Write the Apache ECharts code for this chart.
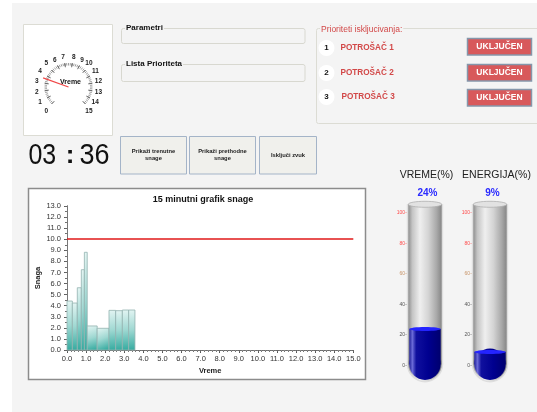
<!DOCTYPE html>
<html><head><meta charset="utf-8">
<script src="https://cdn.jsdelivr.net/npm/echarts@6/dist/echarts.min.js"></script>
<style>html,body{margin:0;padding:0;background:#fff;}#c{width:537px;height:412px;}</style>
</head><body><div id="c"></div>
<script>
// ---- data ----
const binStart = [0, 0.28, 0.54, 0.75, 0.91, 1.06, 1.58, 2.2, 2.55, 2.9, 3.23];
const binEnd   = [0.28, 0.54, 0.75, 0.91, 1.06, 1.58, 2.2, 2.55, 2.9, 3.23, 3.56];
const power    = [4.42, 4.24, 5.62, 7.25, 8.82, 2.17, 1.96, 3.58, 3.55, 3.61, 3.61];
const powerLimit = 10;
const gaugeValue = 3.6;
const clockMinutes = '03';
const clockSeconds = '36';
const thermoNames = ['VREME(%)', 'ENERGIJA(%)'];
const thermoValues = [24, 9];
const consumers = ['POTROŠAČ 1', 'POTROŠAČ 2', 'POTROŠAČ 3'];
const consumerStates = ['UKLJUČEN', 'UKLJUČEN', 'UKLJUČEN'];
const buttonLabels = ['Prikaži trenutne\nsnage', 'Prikaži prethodne\nsnage', 'Isključi zvuk'];

const FONT = '"Liberation Sans", Arial, sans-serif';
const BG = '#f4f4f4';
const chart = echarts.init(document.getElementById('c'), null, {renderer: 'canvas'});

const barData = power.map((v, i) => [binStart[i], binEnd[i], v]);

function renderBin(params, api) {
  const p0 = api.coord([api.value(0), 0]);
  const p1 = api.coord([api.value(1), api.value(2)]);
  return {
    type: 'rect',
    shape: {x: p0[0], y: p1[1], width: p1[0] - p0[0], height: p0[1] - p1[1]},
    style: {
      fill: new echarts.graphic.LinearGradient(0, 0, 0.7, 1, [
        {offset: 0, color: '#e4f5f3'}, {offset: 0.5, color: '#9fd8d2'}, {offset: 1, color: '#33aa9f'}
      ]),
      stroke: '#93b3b0', lineWidth: 0.8
    }
  };
}

function renderTube(params, api) {
  const v = api.value(1);
  const c0 = api.coord([0, 0]);
  const bw = api.size([1, 0])[0];
  const cx = c0[0];
  const r = bw / 2;
  const yC = c0[1] - 1.5;
  const yTop = api.coord([0, 105.5])[1];
  const yV = api.coord([0, v])[1];
  const tubeGrad = () => new echarts.graphic.LinearGradient(0, 0, 1, 0, [
    {offset: 0, color: '#8e8e8e'}, {offset: 0.12, color: '#c4c4c4'}, {offset: 0.35, color: '#efefef'},
    {offset: 0.6, color: '#d4d4d4'}, {offset: 0.85, color: '#a8a8a8'}, {offset: 1, color: '#868686'}
  ]);
  const fillGrad = () => new echarts.graphic.LinearGradient(0, 0, 1, 0, [
    {offset: 0, color: '#20209a'}, {offset: 0.1, color: '#6a6ad8'}, {offset: 0.22, color: '#10109e'},
    {offset: 0.6, color: '#000090'}, {offset: 1, color: '#00006e'}
  ]);
  return {
    type: 'group',
    children: [
      {type: 'rect', shape: {x: cx - r - 1.5, y: yTop, width: bw + 3, height: yC - yTop}, style: {fill: '#dedede'}},
      {type: 'circle', shape: {cx: cx, cy: yC, r: r + 1.5}, style: {fill: '#dedede'}},
      {type: 'rect', shape: {x: cx - r, y: yTop, width: bw, height: yC - yTop}, style: {fill: tubeGrad()}},
      {type: 'circle', shape: {cx: cx, cy: yC, r: r}, style: {fill: tubeGrad()}},
      {type: 'rect', shape: {x: cx - r + 1, y: yV, width: bw - 2, height: yC - yV}, style: {fill: fillGrad()}},
      {type: 'circle', shape: {cx: cx, cy: yC, r: r - 1}, style: {fill: fillGrad()}},
      {type: 'ellipse', shape: {cx: cx, cy: yV, rx: r - 1, ry: 2}, style: {fill: '#2424ff'}},
      {type: 'ellipse', shape: {cx: cx, cy: yTop, rx: r, ry: 3}, style: {fill: '#e2e2e2', stroke: '#b0b0b0', lineWidth: 0.8}},
      {type: 'text', style: {text: v + '%', x: cx + 2.5, y: yTop - 11, align: 'center', verticalAlign: 'middle',
        fill: '#2a2aff', font: 'bold 10px ' + FONT}}
    ]
  };
}

const graphic = [
  {type: 'rect', z: -10, shape: {x: 12, y: 3, width: 525, height: 409}, style: {fill: BG}},
  {type: 'rect', z: -9, shape: {x: 23.5, y: 24.5, width: 89, height: 111}, style: {fill: '#fff', stroke: '#dcdcd4', lineWidth: 1}},
  {type: 'rect', z: -9, shape: {x: 28.5, y: 188.5, width: 337, height: 191}, style: {fill: '#fff', stroke: '#8c8c8c', lineWidth: 1.5}},
  // fieldsets
  {type: 'rect', z: -8, shape: {x: 121.5, y: 28.5, width: 183.5, height: 15, r: 2}, style: {fill: 'none', stroke: '#d8d8d0', lineWidth: 1}},
  {type: 'text', z: -7, style: {text: 'Parametri', x: 125, y: 28, verticalAlign: 'middle', font: 'bold 8px ' + FONT, fill: '#111', backgroundColor: BG, padding: [0, 1]}},
  {type: 'rect', z: -8, shape: {x: 121.5, y: 64.5, width: 183.5, height: 17, r: 2}, style: {fill: 'none', stroke: '#d8d8d0', lineWidth: 1}},
  {type: 'text', z: -7, style: {text: 'Lista Prioriteta', x: 125, y: 63.5, verticalAlign: 'middle', font: 'bold 8px ' + FONT, fill: '#111', backgroundColor: BG, padding: [0, 1]}},
  {type: 'rect', z: -8, shape: {x: 316.5, y: 28.5, width: 230, height: 95, r: 2}, style: {fill: 'none', stroke: '#dcdcd4', lineWidth: 1}},
  {type: 'text', z: -7, style: {text: 'Prioriteti iskljucivanja:', x: 320, y: 29.5, verticalAlign: 'middle', font: '8.5px ' + FONT, fill: '#d24848', backgroundColor: BG, padding: [0, 1]}},
  // clock
  {type: 'text', x: 28.5, y: 155.5, scaleX: 0.86, style: {text: clockMinutes, x: 0, y: 0, verticalAlign: 'middle', font: '29px ' + FONT, fill: '#111'}},
  {type: 'text', style: {text: ':', x: 70, y: 156, align: 'center', verticalAlign: 'middle', font: 'bold 26px ' + FONT, fill: '#111'}},
  {type: 'text', x: 79.5, y: 155.5, scaleX: 0.93, style: {text: clockSeconds, x: 0, y: 0, verticalAlign: 'middle', font: '29px ' + FONT, fill: '#111'}},
  // thermo names
  {type: 'text', style: {text: thermoNames[0], x: 426.5, y: 175, align: 'center', verticalAlign: 'middle', font: '10.5px ' + FONT, fill: '#222'}},
  {type: 'text', style: {text: thermoNames[1], x: 496.5, y: 175, align: 'center', verticalAlign: 'middle', font: '10.5px ' + FONT, fill: '#222'}}
];

const rowY = [48, 73, 97];
const nameX = [340.5, 340.5, 341.5];
consumers.forEach((name, i) => {
  graphic.push({type: 'circle', shape: {cx: 326.5, cy: rowY[i], r: 8}, style: {fill: '#fff'}});
  graphic.push({type: 'text', style: {text: String(i + 1), x: 326.5, y: rowY[i], align: 'center', verticalAlign: 'middle', font: 'bold 8px ' + FONT, fill: '#111'}});
  graphic.push({type: 'text', style: {text: name, x: nameX[i], y: rowY[i] - 0.5, verticalAlign: 'middle', font: 'bold 8.2px ' + FONT, fill: '#d24848'}});
  const by = [38.5, 64.5, 89.5][i];
  graphic.push({type: 'rect', shape: {x: 467.5, y: by, width: 64, height: 16.5}, style: {fill: '#d8595b', stroke: '#8596aa', lineWidth: 1.5}});
  graphic.push({type: 'text', style: {text: consumerStates[i], x: 499.5, y: by + 8.5, align: 'center', verticalAlign: 'middle', font: 'bold 8.5px ' + FONT, fill: '#fff'}});
});

const btnX = [120.5, 189.5, 259.5];
const btnW = [66, 66, 57];
buttonLabels.forEach((t, i) => {
  graphic.push({type: 'rect', shape: {x: btnX[i], y: 136.5, width: btnW[i], height: 37.5}, style: {fill: '#f0f0ec', stroke: '#a4b4c8', lineWidth: 1}});
  graphic.push({type: 'text', style: {text: t, x: btnX[i] + btnW[i] / 2, y: 155, align: 'center', verticalAlign: 'middle', font: 'bold 5.8px ' + FONT, fill: '#222', lineHeight: 7}});
});

const thermoLabelColor = v => (Number(v) >= 80 ? '#ff4a4a' : (Number(v) >= 60 ? '#c89468' : '#555'));
const thermoY = i => ({
  type: 'value', gridIndex: i, min: 0, max: 100, interval: 20,
  axisLine: {show: false}, axisTick: {show: false}, splitLine: {show: false},
  axisLabel: {formatter: '{value}-', fontSize: 5, margin: 1.5, color: thermoLabelColor, fontFamily: FONT}
});

const option = {
  animation: false,
  backgroundColor: '#fff',
  textStyle: {fontFamily: FONT},
  title: {text: '15 minutni grafik snage', left: 198, top: 190, textAlign: 'center',
    textStyle: {fontSize: 9, fontWeight: 'bold', color: '#111', fontFamily: FONT}},
  graphic: graphic,
  grid: [
    {left: 67, right: 183.7, top: 206, bottom: 62},
    {left: 408.3, top: 212.7, width: 33.4, height: 153},
    {left: 473.3, top: 212.7, width: 33.4, height: 153}
  ],
  xAxis: [
    {type: 'value', gridIndex: 0, min: 0, max: 15, interval: 1, position: 'bottom',
      axisLine: {lineStyle: {color: '#555', width: 1}},
      axisTick: {show: true, length: 3, lineStyle: {color: '#555'}},
      minorTick: {show: true, splitNumber: 5, length: 2, lineStyle: {color: '#666'}},
      splitLine: {show: false},
      axisLabel: {formatter: v => v.toFixed(1), fontSize: 7.5, color: '#333', margin: 5},
      name: 'Vreme', nameLocation: 'middle', nameGap: 17, nameMoveOverlap: false,
      nameTextStyle: {fontSize: 7.5, fontWeight: 'bold', color: '#222'}},
    {type: 'value', gridIndex: 0, min: 0, max: 15, interval: 1, position: 'top',
      axisLine: {lineStyle: {color: '#777', width: 1, type: 'dotted'}},
      axisTick: {show: true, inside: true, length: 2, lineStyle: {color: '#666'}},
      minorTick: {show: true, splitNumber: 5, length: 1.5, lineStyle: {color: '#888'}},
      splitLine: {show: false}, axisLabel: {show: false}},
    {type: 'category', gridIndex: 1, data: ['v'], show: false},
    {type: 'category', gridIndex: 2, data: ['e'], show: false}
  ],
  yAxis: [
    {type: 'value', gridIndex: 0, min: 0, max: 13, interval: 1,
      axisLine: {show: true, lineStyle: {color: '#555', width: 1}},
      axisTick: {show: true, length: 3, lineStyle: {color: '#555'}},
      minorTick: {show: true, splitNumber: 2, length: 2, lineStyle: {color: '#666'}},
      splitLine: {show: false},
      axisLabel: {formatter: v => v.toFixed(1), fontSize: 7.5, color: '#333', margin: 6},
      name: 'Snaga', nameLocation: 'middle', nameGap: 25, nameRotate: 90, nameMoveOverlap: false,
      nameTextStyle: {fontSize: 7.5, fontWeight: 'bold', color: '#222'}},
    {type: 'value', gridIndex: 0, min: 0, max: 13, interval: 1, position: 'right',
      axisLine: {show: true, lineStyle: {color: '#777', width: 1}},
      axisTick: {show: true, inside: true, length: 2.5, lineStyle: {color: '#666'}},
      minorTick: {show: true, inside: true, splitNumber: 2, length: 1.5},
      splitLine: {show: false}, axisLabel: {show: false}},
    thermoY(1), thermoY(2)
  ],
  series: [
    {type: 'custom', xAxisIndex: 0, yAxisIndex: 0, data: barData, renderItem: renderBin,
      encode: {x: [0, 1], y: 2},
      markLine: {silent: true, symbol: 'none', label: {show: false},
        lineStyle: {color: '#e01818', width: 1.5, type: 'solid'}, data: [{yAxis: powerLimit}]}},
    {type: 'custom', xAxisIndex: 2, yAxisIndex: 2, data: [[0, thermoValues[0]]], renderItem: renderTube, clip: false},
    {type: 'custom', xAxisIndex: 3, yAxisIndex: 3, data: [[0, thermoValues[1]]], renderItem: renderTube, clip: false},
    {type: 'gauge', center: [68.5, 87], radius: 25, startAngle: 225, endAngle: -45, min: 0, max: 15, splitNumber: 15,
      axisLine: {show: true, lineStyle: {width: 1, color: [[1, 'rgba(0,0,0,0)']]}},
      splitLine: {length: 4, distance: 0, lineStyle: {color: '#555', width: 0.9}},
      axisTick: {splitNumber: 4, length: 2.5, distance: 0, lineStyle: {color: '#777', width: 0.7}},
      axisLabel: {distance: -13, fontSize: 6.5, color: '#222', fontWeight: 'bold', fontFamily: FONT},
      pointer: {icon: 'rect', length: 27, width: 1.2, offsetCenter: [0, 0], itemStyle: {color: '#f04848'}},
      anchor: {show: false},
      title: {offsetCenter: [2, -4.5], fontSize: 7, fontWeight: 'bold', color: '#111', fontFamily: FONT},
      detail: {show: false},
      data: [{value: gaugeValue, name: 'Vreme'}]}
  ]
};
chart.setOption(option);
</script></body></html>
